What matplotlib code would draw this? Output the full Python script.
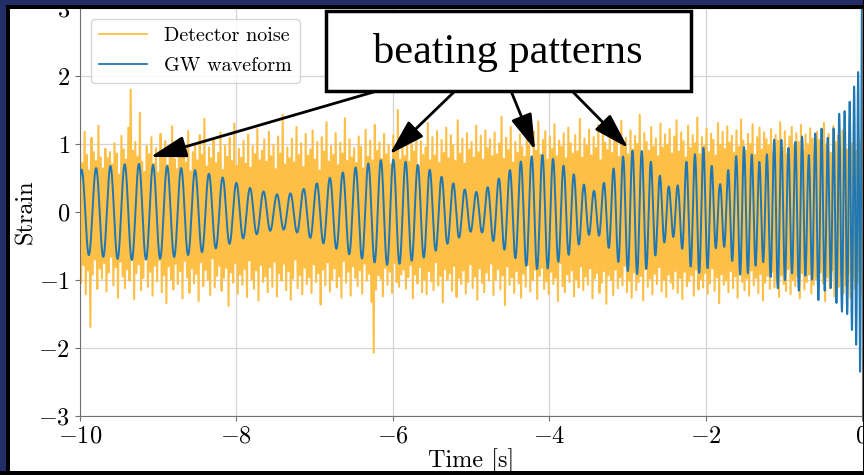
import numpy as np
import matplotlib
matplotlib.use('Agg')
import matplotlib.pyplot as plt
from matplotlib.patches import Rectangle

# Computer Modern look for axis text
plt.rcParams.update({
    'font.family': 'serif',
    'font.serif': ['cmr10'],
    'mathtext.fontset': 'cm',
    'axes.formatter.use_mathtext': True,
})

# GW waveform: amplitude envelope knots (time [s], strain)
ENV_T = [-10.0, -9.83, -9.46, -9.27, -8.91, -8.54, -8.18, -7.85, -7.51, -7.35,
         -7.20, -6.87, -6.52, -6.21, -6.06, -5.91, -5.60, -5.29, -5.01, -4.86,
         -4.59, -4.32, -4.17, -4.03, -3.76, -3.50, -3.40, -3.27, -3.15, -3.03,
         -2.90, -2.79, -2.67, -2.56, -2.45, -2.34, -2.24, -2.02, -1.82, -1.53,
         -1.28, -1.09, -0.90, -0.79, -0.69, -0.56, -0.42, -0.29, -0.19, -0.12,
         -0.04, -0.01, 0.0]
ENV_A = [0.62, 0.64, 0.70, 0.71, 0.68, 0.62, 0.51, 0.36, 0.26, 0.26,
         0.31, 0.47, 0.64, 0.75, 0.78, 0.76, 0.67, 0.46, 0.29, 0.30,
         0.54, 0.78, 0.84, 0.84, 0.64, 0.34, 0.30, 0.47, 0.69, 0.85,
         0.92, 0.89, 0.69, 0.49, 0.35, 0.40, 0.76, 0.95, 0.40, 0.98,
         0.70, 1.14, 0.89, 1.21, 0.80, 1.30, 1.06, 1.45, 1.50, 1.77,
         2.10, 2.60, 3.30]

# GW frequency track (time [s], Hz)
FREQ_T = [-10, -9, -8, -7, -6, -5, -4, -3, -2, -1.5, -1, -0.5, -0.2, 0]
FREQ_HZ = [5.40, 5.55, 5.72, 5.95, 6.30, 6.85, 7.35, 8.30, 9.30, 10.0, 11.0,
           12.5, 15.0, 22.0]

# Detector noise, local maxima / minima in strain x 100
NOISE_HI = [
    96, 72, 118, 84, 61, 109, 88, 75, 127, 80,
    64, 93, 79, 88, 70, 101, 86, 55, 112, 92,
    77, 124, 180, 90, 103, 81, 146, 74, 59, 97,
    85, 110, 71, 94, 58, 115, 82, 104, 69, 91,
    126, 78, 63, 107, 83, 96, 73, 119, 60, 88,
    100, 76, 113, 84, 137, 67, 95, 79, 106, 72,
    87, 117, 62, 98, 81, 109, 75, 130, 68, 93,
    80, 105, 71, 114, 65, 97, 85, 122, 76, 90,
    107, 74, 118, 82, 99, 63, 111, 86, 143, 70,
    95, 79, 108, 73, 125, 84, 101, 66, 115, 83,
    92, 120, 77, 103, 61, 110, 89, 132, 74, 97,
    84, 116, 69, 102, 86, 138, 75, 107, 80, 94,
    72, 111, 96, 64, 121, 81, 105, 76, 128, 90,
    102, 78, 115, 85, 98, 70, 113, 93, 150, 77,
    108, 82, 122, 74, 100, 89, 117, 67, 104, 84,
    95, 131, 76, 110, 83, 119, 72, 106, 87, 124,
    79, 113, 98, 75, 135, 86, 108, 71, 116, 92,
    103, 80, 127, 88, 112, 77, 120, 94, 107, 82,
    117, 85, 101, 140, 78, 109, 91, 125, 73, 103,
    87, 114, 96, 81, 122, 99, 75, 118, 90, 133,
    84, 106, 119, 77, 111, 93, 129, 82, 105, 96,
    116, 79, 124, 101, 86, 113, 89, 137, 80, 108,
    98, 121, 83, 110, 94, 128, 76, 115, 102, 91,
    126, 87, 107, 117, 81, 134, 97, 109, 85, 120,
    92, 112, 100, 143, 84, 116, 103, 90, 125, 96,
    108, 82, 130, 95, 114, 99, 122, 86, 111, 135,
    89, 117, 104, 80, 127, 94, 113, 101, 139, 85,
    110, 97, 123, 88, 115, 106, 83, 131, 99, 118,
    93, 126, 102, 112, 87, 120, 96, 136, 105, 90,
    115, 100, 129, 84, 110, 124, 92, 117, 107, 98,
    122, 88, 113, 105, 132, 95, 119, 86, 111, 125,
    97, 116, 103, 128, 91, 114, 100, 123, 108, 89,
    118, 106, 94, 131, 99, 115, 87, 126, 103, 112,
    96, 120, 108, 92, 116, 101, 127, 90, 113, 104,
]
NOISE_LO = [
    -104, -78, -121, -86, -169, -92, -70, -113, -83, -98,
    -75, -117, -89, -66, -108, -81, -126, -73, -95, -112,
    -84, -101, -69, -128, -90, -77, -115, -97, -63, -110,
    -88, -123, -79, -102, -71, -118, -93, -134, -80, -99,
    -114, -76, -106, -87, -127, -72, -96, -119, -83, -105,
    -91, -131, -74, -109, -85, -100, -122, -68, -111, -94,
    -79, -116, -97, -82, -138, -89, -104, -75, -120, -92,
    -107, -84, -125, -71, -99, -113, -86, -130, -78, -103,
    -95, -118, -81, -110, -73, -124, -90, -101, -76, -115,
    -87, -129, -98, -70, -112, -93, -121, -82, -106, -96,
    -119, -77, -103, -90, -136, -85, -108, -74, -117, -100,
    -83, -111, -95, -126, -72, -104, -88, -123, -80, -97,
    -109, -86, -120, -76, -101, -91, -132, -207, -114, -93,
    -98, -124, -82, -107, -88, -119, -75, -103, -110, -92,
    -85, -113, -96, -78, -127, -92, -105, -81, -118, -99,
    -121, -87, -102, -115, -74, -108, -94, -133, -84, -100,
    -90, -116, -79, -125, -97, -106, -86, -120, -103, -77,
    -112, -95, -129, -83, -104, -118, -89, -101, -76, -122,
    -99, -84, -114, -93, -137, -80, -107, -96, -119, -87,
    -105, -126, -91, -110, -78, -117, -100, -85, -128, -94,
    -82, -113, -102, -121, -88, -106, -97, -131, -75, -109,
    -118, -92, -103, -86, -124, -99, -111, -80, -115, -95,
    -107, -83, -127, -98, -90, -119, -104, -87, -135, -93,
    -100, -122, -85, -112, -96, -108, -79, -118, -101, -126,
    -89, -115, -103, -94, -130, -84, -110, -98, -121, -91,
    -106, -81, -117, -100, -125, -92, -104, -113, -87, -119,
    -97, -128, -88, -109, -102, -93, -123, -85, -114, -99,
    -111, -90, -120, -105, -83, -116, -96, -134, -92, -107,
    -101, -118, -87, -112, -95, -126, -89, -103, -115, -98,
    -123, -86, -108, -97, -119, -91, -130, -104, -94, -113,
    -88, -111, -102, -125, -93, -106, -116, -84, -121, -100,
    -109, -95, -127, -90, -114, -103, -92, -120, -107, -99,
    -117, -89, -105, -131, -96, -112, -86, -124, -101, -110,
    -94, -119, -108, -91, -126, -98, -113, -104, -88, -122,
]

# Arrow tips of the "beating patterns" callout (time [s], strain)
TIP_T = [-9.10, -6.04, -4.18, -2.99]
TIP_Y = [0.81, 0.85, 0.91, 0.94]

NOISE_COLOR = '#fdbf45'
GW_COLOR = '#1f77b4'
NAVY = '#222c66'

W, H = 864, 475


def px_rect(fig, x0, y0, x1, y1, **kw):
    """Rectangle given in pixel coords measured from the top-left corner."""
    return Rectangle((x0 / W, 1 - y1 / H), (x1 - x0) / W, (y1 - y0) / H,
                     transform=fig.transFigure, **kw)


# signals
t_gw = np.linspace(-10, 0, 8000)
freq = np.interp(t_gw, FREQ_T, FREQ_HZ)
phase = 2 * np.pi * np.cumsum(freq) * (t_gw[1] - t_gw[0])
phase -= np.interp(-0.002, t_gw, phase)
gw = np.interp(t_gw, ENV_T, ENV_A) * np.cos(phase)

noise = np.empty(len(NOISE_HI) + len(NOISE_LO))
noise[0::2] = NOISE_HI
noise[1::2] = NOISE_LO
noise /= 100.0
t_noise = np.linspace(-10, 0, len(noise))

fig = plt.figure(figsize=(W / 100, H / 100), dpi=100, facecolor='black')
fig.add_artist(px_rect(fig, 10, 9, 863, 471, facecolor='white',
                       edgecolor='none', zorder=-1))

ax = fig.add_axes([80 / W, 1 - 416 / H, 782 / W, 408 / H])
ax.plot(t_noise, noise, color=NOISE_COLOR, lw=1.5, label='Detector noise',
        zorder=2)
ax.plot(t_gw, gw, color=GW_COLOR, lw=1.4, label='GW waveform', zorder=3)

ax.set_xlim(-10, 0)
ax.set_ylim(-3, 3)
ax.set_xticks(range(-10, 1, 2))
ax.set_yticks(range(-3, 4))
ax.grid(True, color='#d4d4d4', lw=0.9)
ax.set_axisbelow(True)
for sp in ax.spines.values():
    sp.set_color('#707070')
ax.tick_params(labelsize=17.5, color='#707070', labelcolor='black')
ax.set_xlabel('Time [s]', fontsize=17.5)
ax.set_ylabel('Strain', fontsize=17.5)
ax.xaxis.set_label_coords(0.5, -0.078)
ax.yaxis.set_label_coords(-0.055, 0.5)

leg = ax.legend(loc='upper left', fontsize=14.5, handlelength=2.4,
                labelspacing=0.6, borderaxespad=0.55, framealpha=0.8,
                edgecolor='#cccccc')
for ln in leg.get_lines():
    ln.set_linewidth(1.3)

# callout arrows, starting at the bottom edge of the text box
for bx, tt, ty in zip([377, 455, 511, 572], TIP_T, TIP_Y):
    ax.annotate('', xy=(tt, ty), xycoords='data',
                xytext=(bx / W, 1 - 91 / H), textcoords='figure fraction',
                arrowprops=dict(arrowstyle='-|>,head_length=1.1,head_width=0.33',
                                mutation_scale=20, lw=2, color='black',
                                shrinkA=0, shrinkB=0),
                annotation_clip=False, zorder=6)

# slide frame drawn over the axes edges
fig.add_artist(px_rect(fig, 0, 0, W, 5, facecolor=NAVY, edgecolor='none', zorder=5))
fig.add_artist(px_rect(fig, 0, 5, W, 9, facecolor='black', edgecolor='none', zorder=5))
fig.add_artist(px_rect(fig, 0, 0, 6, H, facecolor=NAVY, edgecolor='none', zorder=5))
fig.add_artist(px_rect(fig, 6, 5, 10, H, facecolor='black', edgecolor='none', zorder=5))
fig.add_artist(px_rect(fig, 0, 471, W, H, facecolor='black', edgecolor='none', zorder=5))
fig.add_artist(px_rect(fig, 863, 0, W, H, facecolor='black', edgecolor='none', zorder=5))

# "beating patterns" callout box
fig.add_artist(px_rect(fig, 325.5, 11.5, 690.5, 91, facecolor='white',
                       edgecolor='black', lw=2.5, zorder=6))
fig.text(508 / W, 1 - 63 / H, 'beating patterns', family='Liberation Serif',
         fontsize=30.5, ha='center', va='baseline', zorder=7)

fig.savefig('out.png', dpi=100, facecolor=fig.get_facecolor())
